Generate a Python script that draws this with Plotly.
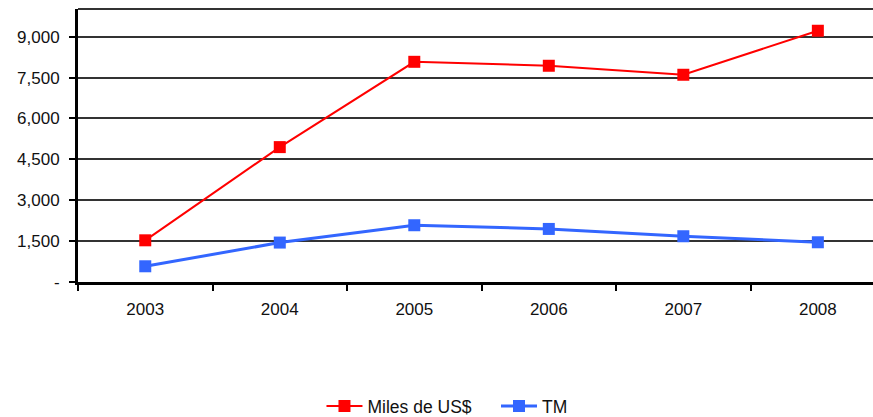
import plotly.graph_objects as go

# datos
anios = ["2003", "2004", "2005", "2006", "2007", "2008"]
miles_usd = [1530, 4950, 8080, 7935, 7605, 9220]
tm = [577, 1447, 2083, 1947, 1679, 1458]

y_ticks = [0, 1500, 3000, 4500, 6000, 7500, 9000]
y_labels = ["-", "1,500", "3,000", "4,500", "6,000", "7,500", "9,000"]

fig = go.Figure()

# Miles de US$
fig.add_trace(
    go.Scatter(
        x=anios,
        y=miles_usd,
        mode="lines+markers",
        name="Miles de US$" + "\u00a0" * 4,
        line=dict(color="#ff0000", width=2),
        marker=dict(color="#ff0000", size=12, symbol="square"),
    )
)

# TM
fig.add_trace(
    go.Scatter(
        x=anios,
        y=tm,
        mode="lines+markers",
        name="TM",
        line=dict(color="#3366ff", width=3),
        marker=dict(color="#3366ff", size=12, symbol="square"),
    )
)

fig.update_layout(
    width=873,
    height=417,
    margin=dict(l=78, r=0, t=9, b=135, autoexpand=False),
    paper_bgcolor="white",
    plot_bgcolor="white",
    font=dict(family="Liberation Sans, Arial, sans-serif", size=17, color="#111"),
    showlegend=True,
    legend=dict(
        orientation="h",
        x=0.512,
        xref="container",
        xanchor="center",
        y=0.026,
        yref="container",
        yanchor="middle",
        font=dict(size=17.5),
        itemwidth=36,
    ),
)

fig.update_xaxes(
    type="category",
    range=[-0.5, 5.41],
    tickson="boundaries",
    ticks="outside",
    ticklen=6,
    tickwidth=2,
    tickcolor="black",
    showline=True,
    linecolor="black",
    linewidth=3,
    showgrid=False,
    ticklabelstandoff=10,
    automargin=False,
)

fig.update_yaxes(
    range=[0, 10018],
    tickvals=y_ticks,
    ticktext=y_labels,
    ticks="outside",
    ticklen=6,
    tickwidth=2,
    tickcolor="black",
    showline=True,
    linecolor="black",
    linewidth=3,
    showgrid=True,
    gridcolor="#333",
    gridwidth=2,
    zeroline=False,
    ticklabelstandoff=6,
    automargin=False,
)

# borde superior
fig.add_shape(
    type="line", xref="paper", yref="paper", x0=0, x1=1, y0=1, y1=1,
    line=dict(color="#333", width=2),
)

# sin margen del body, para que la figura ocupe toda la ventana
fig.write_html(
    "out.html",
    config={"displayModeBar": False},
    post_script="document.body.style.margin='0';document.body.style.overflow='hidden';",
)
